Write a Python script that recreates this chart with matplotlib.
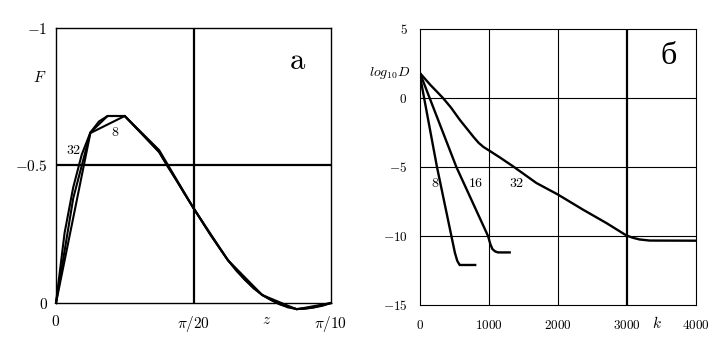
import numpy as np
import matplotlib
matplotlib.use("Agg")
import matplotlib.pyplot as plt

plt.rcParams['mathtext.fontset'] = 'cm'
plt.rcParams['font.family'] = ['DejaVu Serif']

# ---------------- panel a data ----------------
zmax = np.pi / 10
F8 = [0, -0.618, -0.680, -0.556, -0.345, -0.156, -0.029, 0.023, 0]
F16 = [0, -0.38, -0.62, -0.68, -0.68, -0.615, -0.549, -0.447, -0.345,
       -0.247, -0.156, -0.084, -0.029, 0.004, 0.022, 0.016, 0]
F32 = [0, -0.255, -0.42, -0.54, -0.62, -0.66, -0.68, -0.68, -0.68,
       -0.647, -0.615, -0.582, -0.549, -0.496, -0.447, -0.395, -0.345,
       -0.296, -0.247, -0.201, -0.156, -0.117, -0.084, -0.053, -0.029,
       -0.011, 0.004, 0.016, 0.022, 0.021, 0.016, 0.010, 0]
a_xticks = [0, np.pi / 20, np.pi / 10]
a_xticklabels = [r'$0$', r'$\pi/20$', r'$\pi/10$']
a_yticks = [0, -0.5, -1]
a_yticklabels = [r'$0$', r'$-0.5$', r'$-1$']
a_vgrid = [np.pi / 20]
a_hgrid = [-0.5]

# ---------------- panel b data ----------------
k8 = [0, 246, 455, 505, 540, 575, 800]
D8 = [1.6, -5, -10, -11.2, -11.8, -12.1, -12.1]
k16 = [0, 527, 986, 1020, 1050, 1090, 1130, 1300]
D16 = [1.8, -5, -10, -10.6, -10.95, -11.12, -11.19, -11.19]
k32 = [0, 150, 333, 450, 575, 700, 780, 850, 920, 1000, 1155, 1348, 1687,
       2000, 2362, 2701, 2991, 3080, 3180, 3329, 4000]
D32 = [1.8, 0.95, 0, -0.7, -1.57, -2.35, -2.85, -3.25, -3.55, -3.8, -4.3,
       -4.95, -6.16, -7.0, -8.09, -9.06, -9.96, -10.12, -10.25, -10.33,
       -10.34]
b_xticks = [0, 1000, 2000, 3000, 4000]
b_yticks = [5, 0, -5, -10, -15]
b_vgrid_thin = [1000, 2000]
b_vgrid_thick = [3000]
b_hgrid = [0, -5, -10]

W, H = 728, 358
fig = plt.figure(figsize=(W / 100, H / 100), dpi=100)

# ---------------- panel a ----------------
ax1 = fig.add_axes([56 / W, (H - 303) / H, 275 / W, 275 / H])
for x in a_vgrid:
    ax1.axvline(x, color='black', lw=1.6, zorder=1)
for y in a_hgrid:
    ax1.axhline(y, color='black', lw=1.6, zorder=1)
for F in (F8, F16, F32):
    z = np.linspace(0, zmax, len(F))
    ax1.plot(z, F, color='black', lw=1.5, solid_joinstyle='miter', zorder=3,
             clip_on=False)
ax1.set_xlim(0, zmax)
ax1.set_ylim(0, -1)
ax1.set_xticks(a_xticks)
ax1.set_xticklabels(a_xticklabels)
ax1.set_yticks(a_yticks)
ax1.set_yticklabels(a_yticklabels)
ax1.tick_params(length=0, labelsize=11)
ax1.tick_params(axis='x', pad=8)
ax1.tick_params(axis='y', pad=6)
for s in ax1.spines.values():
    s.set_linewidth(1.0)
ax1.text(0.88, 0.88, r'$\mathrm{a}$', transform=ax1.transAxes, fontsize=22,
         ha='center', va='center')
ax1.text(-0.06, 0.82, r'$F$', transform=ax1.transAxes, fontsize=11,
         ha='center', va='center')
ax1.text(0.066, 0.557, r'$32$', transform=ax1.transAxes, fontsize=10,
         ha='center', va='center')
ax1.text(0.215, 0.62, r'$8$', transform=ax1.transAxes, fontsize=10,
         ha='center', va='center')
ax1.text(0.767, -0.062, r'$z$', transform=ax1.transAxes, fontsize=11,
         ha='center', va='center')

# ---------------- panel b ----------------
ax2 = fig.add_axes([420 / W, (H - 305) / H, 276 / W, 276 / H])
for x in b_vgrid_thin:
    ax2.axvline(x, color='black', lw=0.8, zorder=1)
for x in b_vgrid_thick:
    ax2.axvline(x, color='black', lw=1.6, zorder=1)
for y in b_hgrid:
    ax2.axhline(y, color='black', lw=0.8, zorder=1)
for kk, DD in ((k8, D8), (k16, D16), (k32, D32)):
    ax2.plot(kk, DD, color='black', lw=1.7, zorder=3)
ax2.set_xlim(0, 4000)
ax2.set_ylim(-15, 5)
ax2.set_xticks(b_xticks)
ax2.set_xticklabels([r'$%d$' % v for v in b_xticks])
ax2.set_yticks(b_yticks)
ax2.set_yticklabels([r'$%d$' % v for v in b_yticks])
ax2.tick_params(length=0, labelsize=9.5)
ax2.tick_params(axis='x', pad=10)
ax2.tick_params(axis='y', pad=9)
for s in ax2.spines.values():
    s.set_linewidth(0.8)
ax2.text(0.9, 0.9, 'б', transform=ax2.transAxes, fontsize=23,
         family='Liberation Serif', ha='center', va='center')
ax2.text(-0.11, 0.84, r'$log_{10}D$', transform=ax2.transAxes, fontsize=10,
         ha='center', va='center')
ax2.text(0.055, 0.442, r'$8$', transform=ax2.transAxes, fontsize=10,
         ha='center', va='center')
ax2.text(0.203, 0.442, r'$16$', transform=ax2.transAxes, fontsize=10,
         ha='center', va='center')
ax2.text(0.35, 0.442, r'$32$', transform=ax2.transAxes, fontsize=10,
         ha='center', va='center')
ax2.text(0.858, -0.065, r'$k$', transform=ax2.transAxes, fontsize=11,
         ha='center', va='center')

fig.savefig('out.png', dpi=100)
